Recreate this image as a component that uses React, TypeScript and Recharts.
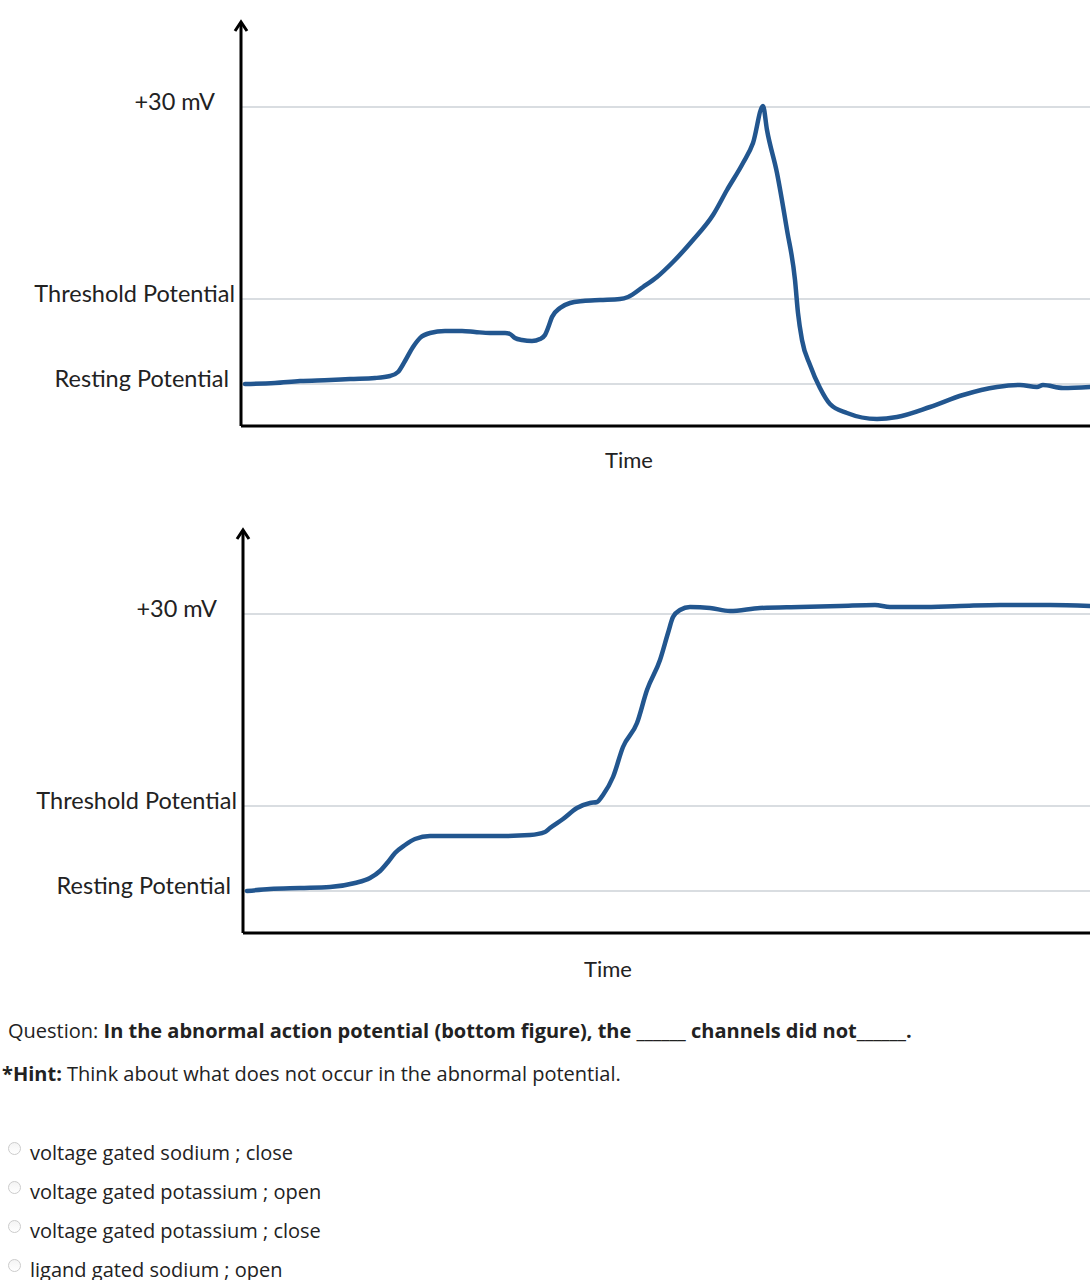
import React from 'react';
import { LineChart, Line, XAxis, YAxis, CartesianGrid, ReferenceDot } from 'recharts';

// Normal action potential (top figure): time units, height units above the time axis
const normalTime = [4, 34, 59, 89, 109, 134, 149, 157, 164, 172, 179, 189, 204, 221, 234, 249, 264, 269, 274, 281, 291, 299, 304, 307, 311, 319, 329, 342, 359, 379, 387, 402, 416, 432, 452, 472, 486, 502, 512, 522, 526, 536, 546, 554, 557, 561, 569, 579, 589, 606, 636, 656, 689, 722, 756, 779, 796, 802, 822, 849];
const normalVoltage = [42, 43, 45, 46, 47, 48, 50, 54, 65, 79, 88, 93, 95, 95, 94, 93, 93, 92, 88, 86, 85, 87, 91, 98, 109, 118, 123, 125, 126, 127, 129, 139, 149, 164, 186, 211, 236, 263, 283, 320, 296, 253, 196, 146, 113, 86, 61, 38, 22, 13, 7, 9, 19, 31, 39, 41, 39, 41, 38, 39];

// Abnormal action potential (bottom figure)
const abnormalTime = [4, 27, 57, 87, 112, 127, 137, 145, 152, 162, 172, 187, 217, 257, 287, 302, 307, 320, 334, 347, 354, 360, 370, 380, 394, 404, 417, 425, 430, 437, 447, 467, 487, 517, 557, 597, 632, 647, 677, 717, 757, 807, 847];
const abnormalVoltage = [42, 44, 45, 46, 50, 55, 62, 71, 80, 88, 94, 97, 97, 97, 98, 101, 105, 114, 125, 130, 131, 138, 156, 186, 210, 243, 273, 300, 316, 323, 326, 325, 322, 325, 326, 327, 328, 326, 326, 327, 328, 328, 327];

// Y-axis levels and their labels
const levelValues = [42, 127, 319];
const levelLabels = ['Resting Potential', 'Threshold Potential', '+30 mV'];

const questionLead = 'Question: ';
const questionBold = 'In the abnormal action potential (bottom figure), the ______ channels did not______.';
const hintBold = '*Hint:';
const hintText = ' Think about what does not occur in the abnormal potential.';
const options = [
  'voltage gated sodium ; close',
  'voltage gated potassium ; open',
  'voltage gated potassium ; close',
  'ligand gated sodium ; open',
];

const LABEL_FONT = 'Lato, "Open Sans", sans-serif';

function build(times: number[], values: number[]) {
  return times.map((t, i) => ({ t, v: values[i] }));
}

const labelShift = [-12, -6, -26];

function YTick(props: any) {
  const { x, y, payload } = props;
  const idx = levelValues.indexOf(payload.value);
  return (
    <text
      x={x + labelShift[idx]}
      y={y - 6}
      textAnchor="end"
      dominantBaseline="central"
      fontFamily={LABEL_FONT}
      fontSize={23.5}
      fill="#222"
    >
      {levelLabels[idx]}
    </text>
  );
}

function Arrow(props: any) {
  const { cx, cy } = props;
  return (
    <g>
      <path d={`M${cx - 6},${cy + 9} L${cx},${cy} L${cx + 6},${cy + 9}`} fill="none" stroke="#000" strokeWidth={3} />
    </g>
  );
}

function Potential({ data, xMax, yMax, axisWidth, timeX, timeY }: any) {
  const height = 22 + yMax + 56;
  return (
    <LineChart width={1090} height={height} data={data} margin={{ top: 22, right: 0, left: 0, bottom: 0 }}>
      <CartesianGrid vertical={false} horizontalValues={levelValues} stroke="#cdd2d7" strokeWidth={1.5} />
      <XAxis
        dataKey="t"
        type="number"
        domain={[0, xMax]}
        tick={false}
        tickLine={false}
        height={56}
        axisLine={{ stroke: '#000', strokeWidth: 3 }}
        label={{
          content: (p: any) => (
            <text
              x={p.viewBox.x + timeX}
              y={p.viewBox.y + timeY}
              textAnchor="middle"
              fontFamily={LABEL_FONT}
              fontSize={22}
              fill="#222"
            >
              Time
            </text>
          ),
        }}
      />
      <YAxis
        type="number"
        domain={[0, yMax]}
        ticks={levelValues}
        width={axisWidth}
        tickSize={0}
        tickMargin={0}
        tickLine={false}
        axisLine={{ stroke: '#000', strokeWidth: 3 }}
        tick={<YTick />}
        interval={0}
      />
      <ReferenceDot x={0} y={yMax} r={0} shape={<Arrow />} ifOverflow="visible" />
      <Line
        type="monotone"
        dataKey="v"
        stroke="#22568f"
        strokeWidth={4.5}
        dot={false}
        isAnimationActive={false}
        strokeLinecap="round"
        strokeLinejoin="round"
      />
    </LineChart>
  );
}

const textStyle: React.CSSProperties = {
  position: 'absolute',
  left: 8,
  fontFamily: '"Open Sans", sans-serif',
  fontSize: 20,
  color: '#222',
  whiteSpace: 'nowrap',
  lineHeight: '24px',
};

export default function App() {
  return (
    <div style={{ position: 'absolute', left: 0, top: 0, width: 1090, height: 1280, background: '#fff', overflow: 'hidden' }}>
      <div style={{ position: 'absolute', left: 0, top: 0 }}>
        <Potential data={build(normalTime, normalVoltage)} xMax={849} yMax={404} axisWidth={241} timeX={388} timeY={42} />
      </div>
      <div style={{ position: 'absolute', left: 0, top: 508 }}>
        <Potential data={build(abnormalTime, abnormalVoltage)} xMax={847} yMax={403} axisWidth={243} timeX={365} timeY={44} />
      </div>
      <div style={{ ...textStyle, top: 1019 }}>
        {questionLead}
        <b>{questionBold}</b>
      </div>
      <div style={{ ...textStyle, left: 2, top: 1062 }}>
        <b>{hintBold}</b>
        {hintText}
      </div>
      {options.map((o, i) => (
        <div key={o} style={{ ...textStyle, left: 8, top: 1141 + i * 39 }}>
          <span
            style={{
              display: 'inline-block',
              width: 13,
              height: 13,
              borderRadius: '50%',
              border: '1px solid #ccc',
              background: 'linear-gradient(#f4f4f4, #fff)',
              boxSizing: 'border-box',
              marginRight: 9,
              verticalAlign: 'top',
              marginTop: 1,
            }}
          />
          {o}
        </div>
      ))}
    </div>
  );
}
